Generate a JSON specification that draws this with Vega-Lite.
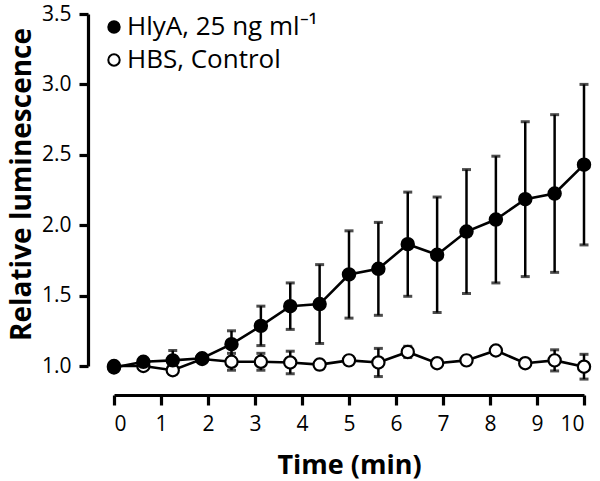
{
  "$schema": "https://vega.github.io/schema/vega-lite/v6.json",
  "autosize": "none",
  "width": 470,
  "height": 352,
  "padding": {"left": 114, "top": 14, "right": 16, "bottom": 115},
  "background": "white",
  "config": {
    "view": {"stroke": null},
    "font": "Open Sans",
    "axis": {
      "domainColor": "black", "domainWidth": 3.2,
      "tickColor": "black", "tickWidth": 3.2, "tickSize": 9,
      "labelColor": "black", "labelFontSize": 21, "labelFont": "Open Sans",
      "titleColor": "black", "titleFont": "Open Sans", "titleFontWeight": "bold",
      "grid": false
    }
  },
  "data": {
    "values": [
      {"series": "HBS, Control", "t": 0, "y": 1.0, "err": 0.01},
      {"series": "HBS, Control", "t": 0.625, "y": 1.0, "err": 0.02},
      {"series": "HBS, Control", "t": 1.25, "y": 0.97, "err": 0.03},
      {"series": "HBS, Control", "t": 1.875, "y": 1.05, "err": 0.01},
      {"series": "HBS, Control", "t": 2.5, "y": 1.03, "err": 0.06},
      {"series": "HBS, Control", "t": 3.125, "y": 1.03, "err": 0.06},
      {"series": "HBS, Control", "t": 3.75, "y": 1.025, "err": 0.08},
      {"series": "HBS, Control", "t": 4.375, "y": 1.01, "err": 0.03},
      {"series": "HBS, Control", "t": 5.0, "y": 1.04, "err": 0.02},
      {"series": "HBS, Control", "t": 5.625, "y": 1.025, "err": 0.1},
      {"series": "HBS, Control", "t": 6.25, "y": 1.1, "err": 0.04},
      {"series": "HBS, Control", "t": 6.875, "y": 1.02, "err": 0.01},
      {"series": "HBS, Control", "t": 7.5, "y": 1.04, "err": 0.03},
      {"series": "HBS, Control", "t": 8.125, "y": 1.11, "err": 0.01},
      {"series": "HBS, Control", "t": 8.75, "y": 1.02, "err": 0.01},
      {"series": "HBS, Control", "t": 9.375, "y": 1.04, "err": 0.075},
      {"series": "HBS, Control", "t": 10, "y": 0.995, "err": 0.088},
      {"series": "HlyA, 25 ng ml⁻¹", "t": 0, "y": 0.99, "err": 0.01},
      {"series": "HlyA, 25 ng ml⁻¹", "t": 0.625, "y": 1.03, "err": 0.02},
      {"series": "HlyA, 25 ng ml⁻¹", "t": 1.25, "y": 1.04, "err": 0.07},
      {"series": "HlyA, 25 ng ml⁻¹", "t": 1.875, "y": 1.055, "err": 0.02},
      {"series": "HlyA, 25 ng ml⁻¹", "t": 2.5, "y": 1.155, "err": 0.095},
      {"series": "HlyA, 25 ng ml⁻¹", "t": 3.125, "y": 1.285, "err": 0.14},
      {"series": "HlyA, 25 ng ml⁻¹", "t": 3.75, "y": 1.425, "err": 0.165},
      {"series": "HlyA, 25 ng ml⁻¹", "t": 4.375, "y": 1.44, "err": 0.28},
      {"series": "HlyA, 25 ng ml⁻¹", "t": 5.0, "y": 1.65, "err": 0.31},
      {"series": "HlyA, 25 ng ml⁻¹", "t": 5.625, "y": 1.69, "err": 0.33},
      {"series": "HlyA, 25 ng ml⁻¹", "t": 6.25, "y": 1.865, "err": 0.37},
      {"series": "HlyA, 25 ng ml⁻¹", "t": 6.875, "y": 1.79, "err": 0.41},
      {"series": "HlyA, 25 ng ml⁻¹", "t": 7.5, "y": 1.955, "err": 0.44},
      {"series": "HlyA, 25 ng ml⁻¹", "t": 8.125, "y": 2.04, "err": 0.45},
      {"series": "HlyA, 25 ng ml⁻¹", "t": 8.75, "y": 2.185, "err": 0.55},
      {"series": "HlyA, 25 ng ml⁻¹", "t": 9.375, "y": 2.225, "err": 0.56},
      {"series": "HlyA, 25 ng ml⁻¹", "t": 10, "y": 2.43, "err": 0.57}
    ]
  },
  "encoding": {
    "x": {
      "field": "t", "type": "quantitative",
      "scale": {"domain": [0, 10], "nice": false, "zero": false},
      "axis": {"title": "Time (min)", "titleFontSize": 27, "values": [0,1,2,3,4,5,6,7,8,9,10], "offset": 29, "tickSize": 10, "labelPadding": 8, "titlePadding": 18}
    },
    "y": {
      "field": "y", "type": "quantitative",
      "scale": {"domain": [1, 3.5], "nice": false, "zero": false},
      "axis": {"title": "Relative luminescence", "titleFontSize": 28, "titleY": 170, "values": [1,1.5,2,2.5,3,3.5], "format": ".1f", "offset": 26, "labelPadding": 8, "titlePadding": 5}
    }
  },
  "layer": [
    {
      "mark": {"type": "errorbar", "color": "black", "thickness": 2.5, "ticks": {"size": 9, "thickness": 3, "color": "black"}},
      "encoding": {
        "yError": {"field": "err"},
        "detail": {"field": "series"}
      }
    },
    {
      "mark": {"type": "line", "color": "black", "strokeWidth": 2.6},
      "encoding": {"detail": {"field": "series"}}
    },
    {
      "mark": {"type": "point", "shape": "circle", "filled": true, "size": 150, "stroke": "black", "strokeWidth": 2.2, "opacity": 1},
      "encoding": {
        "fill": {
          "field": "series", "type": "nominal",
          "scale": {"domain": ["HlyA, 25 ng ml⁻¹", "HBS, Control"], "range": ["black", "white"]},
          "legend": {
            "title": null, "orient": "none", "legendX": -13, "legendY": 0,
            "padding": 0, "labelFontSize": 26, "labelFont": "Open Sans", "labelColor": "black", "labelLimit": 400,
            "symbolSize": 130, "symbolStrokeColor": "black", "symbolStrokeWidth": 2, "symbolType": "circle",
            "rowPadding": 7, "labelOffset": 0
          }
        }
      }
    }
  ]
}
